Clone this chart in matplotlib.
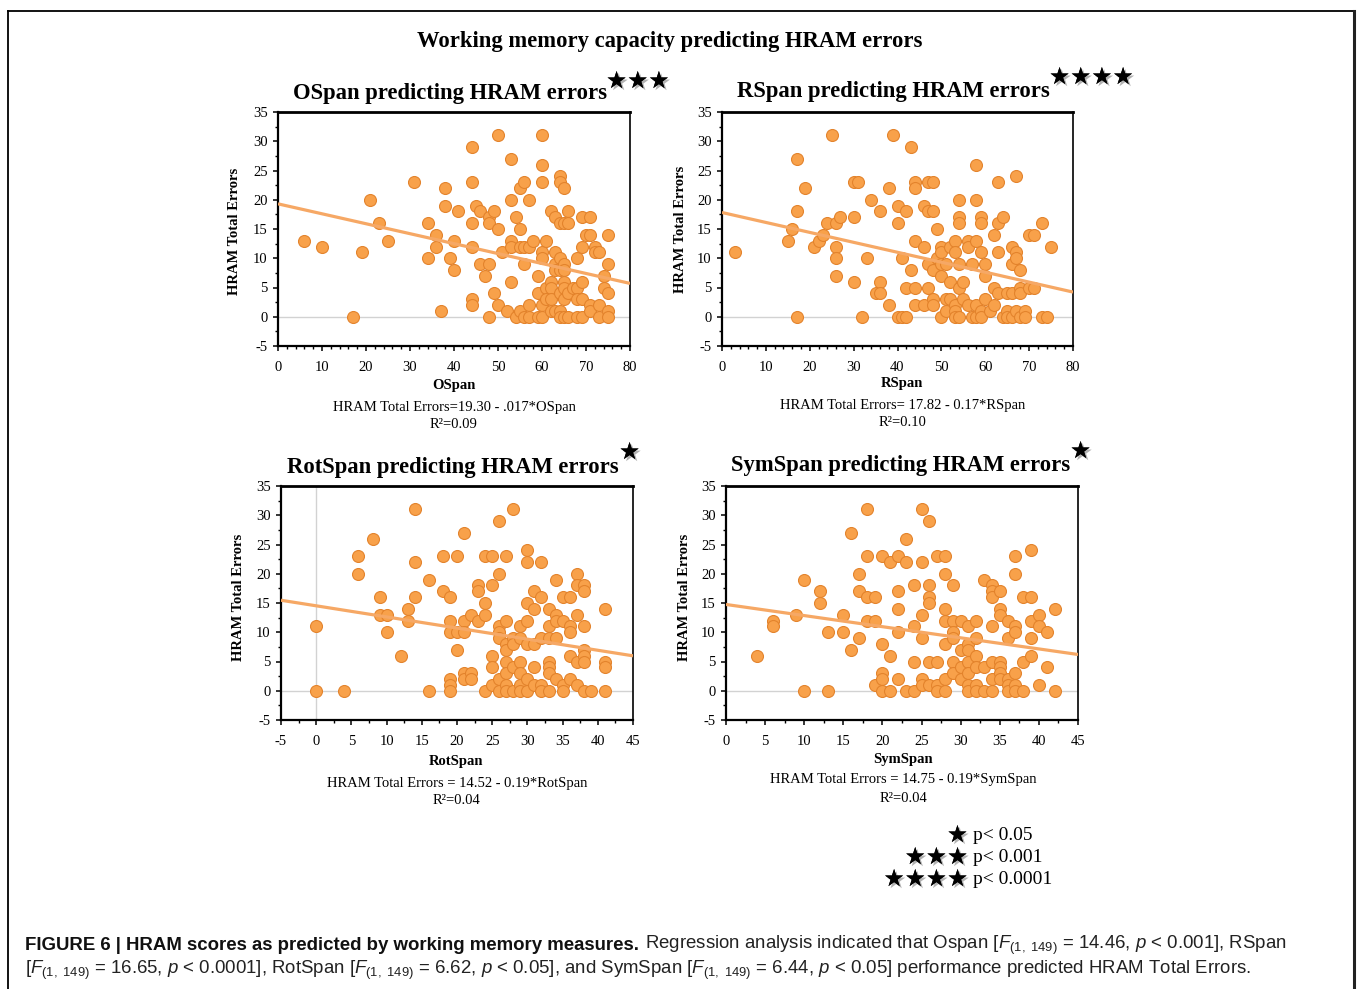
import matplotlib
matplotlib.use('Agg')
import matplotlib.pyplot as plt
import matplotlib.patheffects as pe
from matplotlib.ticker import MultipleLocator
from matplotlib import font_manager
import numpy as np

plt.rcParams['font.family'] = ['Liberation Serif', 'DejaVu Serif']
plt.rcParams['axes.unicode_minus'] = False

# ---------------- data (x, HRAM total errors) ----------------
ospan_pts = [(6,13),(10,12),(17,0),(19,11),(21,20),(23,16),(25,13),(31,23),(34,16),(34,10),(36,14),(36,12),(37,1),
    (38,22),(38,19),(39,10),(40,13),(40,8),(41,18),(44,29),(44,23),(44,16),(44,12),(44,3),(44,2),(45,19),(46,18),(46,9),
    (47,7),(48,17),(48,16),(48,9),(48,0),(49,18),(49,4),(50,31),(50,15),(50,2),(51,11),(52,1),(53,27),(53,20),(53,13),
    (53,12),(53,6),(54,17),(54,0),(55,22),(55,15),(55,12),(55,1),(56,12),(56,0),(56,9),(56,23),(57,12),(57,20),(57,2),
    (57,0),(58,13),(59,7),(59,4),(59,0),(60,31),(60,26),(60,23),(60,11),(60,10),(60,2),(60,0),(61,13),(61,5),(61,3),
    (62,18),(62,6),(62,5),(62,3),(62,1),(63,17),(63,11),(63,9),(63,8),(63,1),(64,24),(64,23),(64,16),(64,10),(64,8),
    (64,4),(64,1),(64,0),(65,22),(65,16),(65,9),(65,8),(65,6),(65,5),(65,3),(65,0),(66,18),(66,16),(66,4),(66,0),(67,5),
    (68,10),(68,5),(68,3),(68,0),(69,17),(69,12),(69,6),(69,3),(69,0),(70,14),(71,17),(71,14),(71,2),(71,1),(72,12),
    (72,11),(73,11),(73,2),(73,0),(74,7),(74,5),(75,14),(75,9),(75,4),(75,1),(75,0)]

rspan_pts = [(3,11),(15,13),(16,15),(17,27),(17,18),(17,0),(19,22),(21,12),(22,13),(23,14),(24,16),(25,31),(26,16),
    (26,12),(26,10),(26,7),(27,17),(30,23),(30,17),(30,6),(31,23),(32,0),(33,10),(34,20),(35,4),(36,18),(36,6),(36,4),
    (38,22),(38,2),(39,31),(40,19),(40,16),(40,0),(41,10),(41,0),(42,18),(42,5),(42,0),(43,29),(43,8),(44,23),(44,22),
    (44,13),(44,5),(44,2),(46,19),(46,12),(46,2),(47,23),(47,18),(47,9),(47,5),(48,23),(48,18),(48,8),(48,3),(48,2),
    (49,15),(49,10),(50,12),(50,11),(50,9),(50,7),(50,0),(51,9),(51,3),(51,1),(52,12),(52,6),(52,3),(53,13),(53,11),
    (53,2),(53,1),(53,0),(54,20),(54,17),(54,16),(54,9),(54,5),(54,0),(55,6),(55,3),(56,13),(56,12),(56,2),(57,9),(57,0),
    (58,26),(58,20),(58,13),(58,2),(58,0),(59,17),(59,16),(59,11),(59,1),(59,0),(60,9),(60,7),(60,3),(61,1),(62,14),
    (62,5),(62,2),(63,23),(63,16),(63,11),(63,4),(64,17),(64,0),(65,4),(65,1),(65,0),(66,12),(66,9),(66,4),(66,0),
    (67,24),(67,11),(67,10),(67,1),(68,8),(68,5),(68,4),(68,0),(69,1),(69,0),(70,14),(70,5),(71,14),(71,5),(73,16),
    (73,0),(74,0),(75,12)]

rotspan_pts = [(0,11),(0,0),(4,0),(6,23),(6,20),(8,26),(9,16),(9,13),(10,13),(10,10),(12,6),(13,14),(13,12),(14,31),
    (14,22),(14,16),(16,19),(16,0),(18,17),(18,23),(19,16),(19,12),(19,10),(19,2),(19,1),(19,0),(20,23),(20,10),(20,7),
    (21,27),(21,12),(21,10),(21,3),(21,2),(22,13),(22,3),(22,2),(23,18),(23,17),(23,12),(24,23),(24,15),(24,13),(24,0),
    (25,23),(25,18),(25,6),(25,4),(25,1),(26,29),(26,20),(26,11),(26,10),(26,9),(26,2),(26,0),(27,23),(27,12),(27,8),
    (27,7),(27,5),(27,3),(27,1),(27,0),(28,31),(28,9),(28,8),(28,4),(28,0),(29,11),(29,9),(29,5),(29,3),(29,1),(29,0),
    (30,24),(30,22),(30,15),(30,12),(30,8),(30,2),(30,0),(31,17),(31,14),(31,8),(31,4),(31,1),(32,22),(32,16),(32,9),
    (32,1),(32,0),(33,14),(33,11),(33,9),(33,5),(33,4),(33,3),(33,0),(34,19),(34,13),(34,12),(34,9),(34,2),(35,16),
    (35,12),(35,1),(35,0),(36,16),(36,11),(36,10),(36,6),(36,2),(37,20),(37,18),(37,13),(37,5),(37,1),(38,18),(38,17),
    (38,11),(38,7),(38,6),(38,5),(38,0),(39,0),(41,14),(41,5),(41,4),(41,0)]

symspan_pts = [(4,6),(6,12),(6,11),(9,13),(10,19),(10,0),(12,17),(12,15),(13,10),(13,0),(15,13),(15,10),(16,27),(16,7),
    (17,20),(17,17),(17,9),(18,31),(18,23),(18,16),(18,12),(19,16),(19,12),(19,1),(20,23),(20,8),(20,3),(20,2),(20,0),
    (21,22),(21,6),(21,0),(22,23),(22,17),(22,14),(22,10),(22,2),(23,26),(23,22),(23,0),(24,18),(24,11),(24,5),(24,0),
    (25,31),(25,22),(25,13),(25,9),(25,2),(25,1),(26,29),(26,18),(26,16),(26,15),(26,5),(26,1),(27,23),(27,5),(27,1),
    (27,0),(28,23),(28,20),(28,14),(28,12),(28,8),(28,2),(28,0),(29,18),(29,12),(29,10),(29,9),(29,5),(29,3),(30,12),
    (30,7),(30,4),(30,2),(31,11),(31,8),(31,7),(31,5),(31,3),(31,1),(31,0),(32,12),(32,9),(32,6),(32,4),(32,1),(32,0),
    (33,19),(33,4),(33,0),(34,18),(34,17),(34,16),(34,11),(34,5),(34,2),(34,0),(35,17),(35,14),(35,13),(35,5),(35,4),
    (35,3),(35,2),(36,12),(36,9),(36,2),(36,1),(36,0),(37,23),(37,20),(37,11),(37,10),(37,3),(37,1),(37,0),(38,16),
    (38,5),(38,0),(39,24),(39,16),(39,12),(39,9),(39,6),(40,13),(40,11),(40,1),(41,10),(41,4),(42,14),(42,0)]

# regression (intercept, slope)
ospan_fit = (19.30, -0.17)
rspan_fit = (17.82, -0.17)
rotspan_fit = (14.52, -0.19)
symspan_fit = (14.75, -0.19)

titles = ["OSpan predicting HRAM errors", "RSpan predicting HRAM errors",
          "RotSpan predicting HRAM errors", "SymSpan predicting HRAM errors"]
stars = ["\u2605\u2605\u2605", "\u2605\u2605\u2605\u2605", "\u2605", "\u2605"]
xlabels = ["OSpan", "RSpan", "RotSpan", "SymSpan"]
equations = ["HRAM Total Errors=19.30 - .017*OSpan", "HRAM Total Errors= 17.82 - 0.17*RSpan",
             "HRAM Total Errors = 14.52 - 0.19*RotSpan", "HRAM Total Errors = 14.75 - 0.19*SymSpan"]
r2_labels = ["R\u00b2=0.09", "R\u00b2=0.10", "R\u00b2=0.04", "R\u00b2=0.04"]

# ---------------- figure ----------------
W, H = 1357, 989
fig = plt.figure(figsize=(W / 100, H / 100), dpi=100)
fig.patch.set_facecolor('white')

over = fig.add_axes([0, 0, 1, 1])
over.set_xlim(0, W)
over.set_ylim(H, 0)
over.axis('off')

FILL = '#F8A14A'
EDGE = '#E3832C'
LINE = '#F6A865'
SERIF = ['Liberation Serif', 'DejaVu Serif']
STARF = ['DejaVu Sans']
shadow = [pe.withSimplePatchShadow(offset=(1.5, -1.5), shadow_rgbFace='#555555', alpha=0.45), pe.Normal()]

# frame
over.plot([8, 8], [H, 11], color='black', lw=1.3)
over.plot([8, 1354], [11, 11], color='black', lw=1.3)
over.plot([1354, 1354], [11, H], color='#222222', lw=2.2)


def panel(box, pts, fit, xlim, xmajor, xminor, vzero=False):
    left, top, right, bottom = box
    ax = fig.add_axes([left / W, 1 - bottom / H, (right - left) / W, (bottom - top) / H])
    xs, ys = zip(*pts)
    ax.axhline(0, color='#d2d2d2', lw=1.0, zorder=1)
    if vzero:
        ax.axvline(0, color='#d2d2d2', lw=1.0, zorder=1)
    ax.scatter(xs, ys, s=74, c=FILL, edgecolors=EDGE, linewidths=0.8, zorder=3)
    xx = np.array(xlim, dtype=float)
    ax.plot(xx, fit[0] + fit[1] * xx, color=LINE, lw=2.3, zorder=4, solid_capstyle='butt')
    ax.set_xlim(xlim)
    ax.set_ylim(-5, 35)
    ax.xaxis.set_major_locator(MultipleLocator(xmajor))
    ax.xaxis.set_minor_locator(MultipleLocator(xminor))
    ax.yaxis.set_major_locator(MultipleLocator(5))
    ax.yaxis.set_minor_locator(MultipleLocator(2.5))
    ax.tick_params(which='major', direction='out', length=3.5, width=1.1, labelsize=10.5, colors='black')
    ax.tick_params(which='minor', direction='out', length=2.2, width=1.0)
    ax.tick_params(axis='x', which='major', pad=7)
    ax.tick_params(axis='y', which='major', pad=4)
    for lab in ax.get_xticklabels() + ax.get_yticklabels():
        lab.set_family(SERIF)
    ax.spines['left'].set_linewidth(1.6)
    ax.spines['bottom'].set_linewidth(1.6)
    ax.spines['top'].set_linewidth(2.0)
    ax.spines['right'].set_linewidth(1.2)
    return ax


boxes = [(278, 112, 630, 346), (722, 112, 1073, 346), (281, 486, 633, 720), (726, 486, 1078, 720)]
panel(boxes[0], ospan_pts, ospan_fit, (0, 80), 10, 2)
panel(boxes[1], rspan_pts, rspan_fit, (0, 80), 10, 2)
panel(boxes[2], rotspan_pts, rotspan_fit, (-5, 45), 5, 2.5, vzero=True)
panel(boxes[3], symspan_pts, symspan_fit, (0, 45), 5, 2.5)

# main title
over.text(670, 41, "Working memory capacity predicting HRAM errors", ha='center', va='center',
          fontsize=16.3, fontweight='bold', family=SERIF)

title_pos = [(450, 93), (893, 91), (453, 468), (901, 466)]
star_pos = [(606, 81), (1049, 77), (619, 452), (1070, 451)]
xlab_pos = [(454, 386), (902, 384), (456, 762), (903, 759)]
eq_pos = [(454, 408), (903, 406), (457, 784), (903, 780)]
r2_pos = [(454, 425), (903, 423), (456, 801), (903, 798)]
ylab_pos = [(234, 231), (680, 229), (238, 597), (685, 597)]

for i in range(4):
    over.text(*title_pos[i], titles[i], ha='center', va='center', fontsize=16.3, fontweight='bold', family=SERIF)
    over.text(*star_pos[i], stars[i], ha='left', va='center', fontsize=17, family=STARF, color='black',
              path_effects=shadow)
    over.text(*xlab_pos[i], xlabels[i], ha='center', va='center', fontsize=10.5, fontweight='bold', family=SERIF)
    over.text(*eq_pos[i], equations[i], ha='center', va='center', fontsize=10.5, family=SERIF)
    over.text(*r2_pos[i], r2_labels[i], ha='center', va='center', fontsize=10.5, family=SERIF)
    over.text(*ylab_pos[i], "HRAM Total Errors", ha='center', va='center', rotation=90,
              fontsize=10.5, fontweight='bold', family=SERIF)

# significance legend
legend_stars = ["\u2605", "\u2605\u2605\u2605", "\u2605\u2605\u2605\u2605"]
legend_labels = ["p< 0.05", "p< 0.001", "p< 0.0001"]
for i, yy in enumerate([835, 857, 879]):
    over.text(968, yy, legend_stars[i], ha='right', va='center', fontsize=17, family=STARF, path_effects=shadow)
    over.text(973, yy + 1, legend_labels[i], ha='left', va='center', fontsize=14, family=SERIF)

# caption
names = {f.name for f in font_manager.fontManager.ttflist}
cap_font = 'Liberation Sans Narrow' if 'Liberation Sans Narrow' in names else 'Liberation Sans'
plt.rcParams['mathtext.fontset'] = 'custom'
plt.rcParams['mathtext.rm'] = cap_font
plt.rcParams['mathtext.it'] = cap_font + ':italic'
plt.rcParams['mathtext.bf'] = cap_font + ':bold'

F = r"$F_{(1,\ 149)}$"
cap_bold = "FIGURE 6 | HRAM scores as predicted by working memory measures."
cap_rest1 = "Regression analysis indicated that Ospan [" + F + " = 14.46, $p$ < 0.001], RSpan"
cap_line2 = ("[" + F + " = 16.65, $p$ < 0.0001], RotSpan [" + F + " = 6.62, $p$ < 0.05], and SymSpan ["
             + F + " = 6.44, $p$ < 0.05] performance predicted HRAM Total Errors.")

fs0 = 13
t1 = over.text(25, 945, cap_bold, ha='left', va='center', fontsize=fs0, fontweight='bold', family=cap_font,
               color='#111111')
t2 = over.text(0, 945, cap_rest1, ha='left', va='center', fontsize=fs0, family=cap_font, color='#222222')
t3 = over.text(25, 970, cap_line2, ha='left', va='center', fontsize=fs0, family=cap_font, color='#222222')
r = fig.canvas.get_renderer()
w1 = t1.get_window_extent(r).width
w2 = t2.get_window_extent(r).width
gap = 6
scale = (1283 - 25 - gap) / (w1 + w2)
fs = fs0 * scale
for t in (t1, t2, t3):
    t.set_fontsize(fs)
r = fig.canvas.get_renderer()
w1 = t1.get_window_extent(r).width
t2.set_x(25 + w1 + gap)

fig.savefig('out.png', dpi=100, facecolor='white')
